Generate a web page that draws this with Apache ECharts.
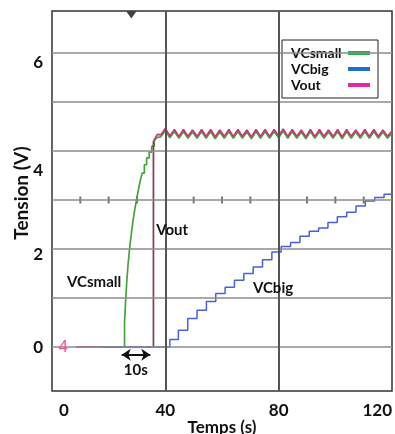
<!DOCTYPE html>
<html>
<head>
<meta charset="utf-8">
<script src="https://cdn.jsdelivr.net/npm/echarts@6/dist/echarts.min.js"></script>
<style>
  html, body { margin: 0; padding: 0; background: #fff; }
  #chart { width: 395px; height: 434px; }
</style>
</head>
<body>
<div id="chart"></div>
<script>
// axes
const xTicks = [0, 40, 80, 120];
const yTicks = [0, 2, 4, 6];
const hGrid = [0, 1, 2, 3, 4, 5, 6];
const vGrid = [40, 80];
const scopeTicks = [10, 20, 30, 50, 60, 70, 90, 100, 110];
const triggerMark = [[28, 6.78]];
// the y labels of the original sit a little below their lines
const yLabelDrop = { 0: 1, 2: 6, 4: 19, 6: 9 };

// Vout : baseline, fast rise, then ripple
const voutBase = [[8.5, 0], [35.8, 0]];
const voutRise = [[35.8, 0], [35.8, 4.2]];
const voutStart = [35.8, 4.2];

// VCsmall : staircase charge (jump time, level after jump)
const vcsmallRise = [
  [17, 0], [25.6, 0.5], [26.0, 0.95], [26.4, 1.35], [26.8, 1.65], [27.2, 1.9],
  [27.6, 2.12], [28.1, 2.35], [28.6, 2.58], [29.2, 2.8], [29.8, 3.0], [30.4, 3.18],
  [31.1, 3.38], [31.8, 3.55], [32.6, 3.72], [33.4, 3.86], [34.3, 3.98], [35.2, 4.1],
  [36.1, 4.22]
];
const vcsmallStart = [36.1, 4.22];

// ripple on the plateau
const plateauT = [37.2, 38.4, 40.0, 41.6, 43.2, 44.8, 46.4, 48.0, 49.6, 51.2, 52.8, 54.4,
  56.0, 57.6, 59.2, 60.8, 62.4, 64.0, 65.6, 67.2, 68.8, 70.4, 72.0, 73.6, 75.2, 76.8,
  78.4, 80.0, 81.6, 83.2, 84.8, 86.4, 88.0, 89.6, 91.2, 92.8, 94.4, 96.0, 97.6, 99.2,
  100.8, 102.4, 104.0, 105.6, 107.2, 108.8, 110.4, 112.0, 113.6, 115.2, 116.8, 118.4, 120.0];
const voutPlateau = [
  4.34, 4.33, 4.46, 4.31, 4.44, 4.30, 4.44, 4.30, 4.43, 4.30,
  4.44, 4.30, 4.44, 4.29, 4.43, 4.30, 4.44, 4.30, 4.44, 4.30,
  4.43, 4.29, 4.44, 4.30, 4.44, 4.30, 4.44, 4.31, 4.45, 4.30,
  4.44, 4.30, 4.43, 4.29, 4.44, 4.30, 4.44, 4.30, 4.43, 4.30,
  4.44, 4.29, 4.44, 4.30, 4.43, 4.30, 4.44, 4.30, 4.44, 4.30,
  4.43, 4.30, 4.41];
const vcsmallPlateau = [
  4.28, 4.29, 4.42, 4.27, 4.40, 4.26, 4.40, 4.26, 4.39, 4.26,
  4.40, 4.26, 4.40, 4.25, 4.39, 4.26, 4.40, 4.26, 4.40, 4.26,
  4.39, 4.25, 4.40, 4.26, 4.40, 4.26, 4.40, 4.27, 4.41, 4.26,
  4.40, 4.26, 4.39, 4.25, 4.40, 4.26, 4.40, 4.26, 4.39, 4.26,
  4.40, 4.25, 4.40, 4.26, 4.39, 4.26, 4.40, 4.26, 4.40, 4.26,
  4.39, 4.26, 4.37];

// VCbig : slow staircase (jump time, level after jump)
const vcbig = [
  [17, 0], [41.6, 0.15], [44.6, 0.34], [47.9, 0.58], [51.2, 0.75], [54.5, 0.93],
  [57.8, 1.09], [61.1, 1.22], [64.4, 1.36], [67.7, 1.5], [71.0, 1.63], [74.3, 1.78],
  [77.6, 1.94], [80.9, 2.05], [84.2, 2.13], [87.5, 2.26], [90.8, 2.36], [94.1, 2.43],
  [97.4, 2.54], [100.7, 2.66], [104.0, 2.75], [107.3, 2.88], [110.6, 2.98],
  [113.9, 3.05], [117.2, 3.12], [120, 3.12]
];

// annotations, in data coordinates
const arrow10s = [[24.6, -0.16], [34.7, -0.16]];
const notes = [
  { text: 'Vout', at: [36.8, 2.38], align: 'left' },
  { text: 'VCsmall', at: [5.3, 1.33], align: 'left' },
  { text: 'VCbig', at: [70.9, 1.21], align: 'left' },
  { text: '10s', at: [29.6, -0.47], align: 'center' }
];
const channelMark = { text: '4', at: [4.0, 0] };

const font = 'Lato, "Liberation Sans", sans-serif';
const GREEN = '#46a23c';
const BLUE = '#4662d6';
const PINK = '#c8357c';

const zip = (ts, vs) => ts.map((t, i) => [t, vs[i]]);

function line(name, data, color, extra) {
  return Object.assign({
    type: 'line',
    name: name,
    data: data,
    symbol: 'none',
    showSymbol: false,
    lineStyle: { color: color, width: 1.7 },
    itemStyle: { color: color },
    z: 3
  }, extra || {});
}

const labelStyle = { fontFamily: font, fontWeight: 'bold', fontSize: 17, color: '#111' };
const yRich = { t: Object.assign({ lineHeight: 17 }, labelStyle) };
yTicks.forEach(v => {
  yRich['s' + v] = { fontSize: 1, lineHeight: 2 * yLabelDrop[v] };
});

const chart = echarts.init(document.getElementById('chart'));

const option = {
  animation: false,
  backgroundColor: '#fff',
  grid: {
    left: 52, right: 3, top: 11, bottom: 43,
    outerBoundsMode: 'none',
    containLabel: false,
    show: true, borderColor: '#333', borderWidth: 1.5
  },
  legend: {
    orient: 'vertical',
    left: 282,
    top: 40,
    align: 'right',
    selectedMode: false,
    backgroundColor: '#fff',
    borderColor: '#222',
    borderWidth: 1,
    padding: [6, 8, 6, 9],
    itemGap: 2,
    itemWidth: 22,
    itemHeight: 4,
    icon: 'rect',
    formatter: name => '{t|' + name + '}',
    textStyle: {
      fontFamily: font, fontWeight: 'bold', fontSize: 14, color: '#111',
      rich: { t: { width: 52, align: 'left', fontFamily: font, fontWeight: 'bold', fontSize: 14, color: '#111', lineHeight: 17 } }
    },
    data: [
      { name: 'VCsmall', itemStyle: { color: '#1fae4e' } },
      { name: 'VCbig', itemStyle: { color: '#1e6fc8' } },
      { name: 'Vout', itemStyle: { color: '#e22aa0' } }
    ]
  },
  xAxis: {
    type: 'value',
    min: 0,
    max: 120,
    axisLine: { show: false },
    axisTick: { show: false },
    splitLine: { show: false },
    axisLabel: Object.assign({
      customValues: xTicks,
      margin: 11,
      alignMinLabel: 'left',
      alignMaxLabel: 'right',
      formatter: v => (v === 0 ? '{z|0}' : String(v)),
      rich: { z: Object.assign({ padding: [0, 0, 0, 7] }, labelStyle) }
    }, labelStyle),
    name: 'Temps (s)',
    nameLocation: 'middle',
    nameGap: 28,
    nameMoveOverlap: false,
    nameTextStyle: labelStyle
  },
  yAxis: {
    type: 'value',
    min: -0.9,
    max: 6.86,
    axisLine: { show: false },
    axisTick: { show: false },
    splitLine: { show: false },
    axisLabel: Object.assign({
      customValues: yTicks,
      margin: 9,
      formatter: v => '{s' + v + '| }\n{t|' + v + '}',
      rich: yRich
    }, labelStyle),
    name: 'Tension (V)',
    nameLocation: 'middle',
    nameRotate: 90,
    nameGap: 21,
    nameMoveOverlap: false,
    nameTextStyle: { fontFamily: font, fontWeight: 'bold', fontSize: 19, color: '#111', padding: [0, 0, 0, 16] }
  },
  series: [
    {
      type: 'scatter',
      data: scopeTicks.map(t => [t, 3]),
      symbol: 'rect',
      symbolSize: [2, 7],
      itemStyle: { color: '#555' },
      silent: true,
      z: 1,
      markLine: {
        silent: true,
        symbol: 'none',
        label: { show: false },
        data: hGrid.map(v => ({ yAxis: v, lineStyle: { color: '#8c8c8c', width: 1.5, type: 'solid' } }))
          .concat(vGrid.map(v => ({ xAxis: v, lineStyle: { color: '#555', width: 2, type: 'solid' } })))
      }
    },
    {
      type: 'scatter',
      data: triggerMark,
      symbol: 'triangle',
      symbolRotate: 180,
      symbolSize: [10, 7],
      itemStyle: { color: '#111' },
      silent: true,
      z: 2
    },
    line('Vout', voutBase, '#e8368a', {
      markLine: {
        silent: true,
        symbol: ['arrow', 'arrow'],
        symbolSize: [9, 9],
        label: { show: false },
        lineStyle: { color: '#111', width: 2, type: 'solid' },
        data: [[{ coord: arrow10s[0] }, { coord: arrow10s[1] }]]
      }
    }),
    line('VCsmall', vcsmallRise, GREEN, { step: 'end' }),
    line('VCbig', vcbig, BLUE, { step: 'end', lineStyle: { color: BLUE, width: 1.5 } }),
    line('Vout', voutRise, '#7d3d5c'),
    line('VCsmall', [vcsmallStart].concat(zip(plateauT, vcsmallPlateau)), GREEN),
    line('Vout', [voutStart].concat(zip(plateauT, voutPlateau)), PINK)
  ]
};

chart.setOption(option);

// text annotations placed through the axes
const graphics = notes.map(n => {
  const p = chart.convertToPixel({ gridIndex: 0 }, n.at);
  return {
    type: 'text',
    x: p[0],
    y: p[1],
    z: 10,
    style: {
      text: n.text,
      fontFamily: font,
      fontWeight: 'bold',
      fontSize: 15,
      fill: '#111',
      align: n.align,
      verticalAlign: 'middle'
    }
  };
});
const cp = chart.convertToPixel({ gridIndex: 0 }, channelMark.at);
graphics.push({
  type: 'text',
  x: cp[0],
  y: cp[1],
  z: 10,
  style: {
    text: channelMark.text,
    fontFamily: '"Liberation Sans", sans-serif',
    fontSize: 17,
    fill: '#f0559b',
    align: 'center',
    verticalAlign: 'middle'
  }
});
chart.setOption({ graphic: graphics });
</script>
</body>
</html>
